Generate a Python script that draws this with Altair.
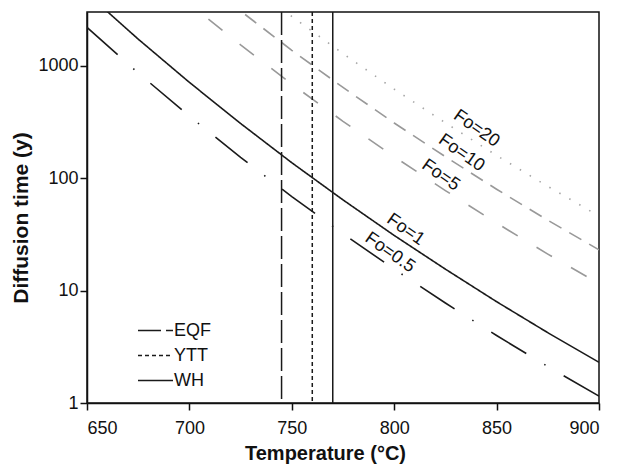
import altair as alt
import pandas as pd

# ---- data ----
temps = [650, 675, 700, 725, 750, 775, 800, 825, 850, 875, 900]
fo_05 = [2190, 861, 355, 153, 68.5, 32.0, 15.5, 7.75, 3.98, 2.11, 1.15]
fo_1 = [4385, 1722, 710, 306, 137, 64.0, 30.9, 15.5, 7.96, 4.22, 2.30]
fo_5 = [21900, 8610, 3550, 1530, 685, 320, 155, 77.5, 39.8, 21.1, 11.5]
fo_10 = [43850, 17220, 7100, 3060, 1370, 640, 309, 155, 79.6, 42.2, 23.0]
fo_20 = [87700, 34440, 14200, 6120, 2740, 1280, 618, 310, 159, 84.4, 46.0]

series_names = ["Fo=0.5", "Fo=1", "Fo=5", "Fo=10", "Fo=20"]
series_values = [fo_05, fo_1, fo_5, fo_10, fo_20]
series_colors = ["#1a1a1a", "#1a1a1a", "#999999", "#999999", "#a6a6a6"]
series_dash = [[41, 21, 1.5, 21], [1, 0], [18, 22], [14, 9], [1.5, 10]]

label_temp = [797.9, 805.6, 822.7, 832.9, 840.2]
label_time = [21.7, 34.8, 106, 167, 275]

sites = ["EQF", "YTT", "WH"]
site_temps = [745, 760, 770]
site_dash = [[23, 5], [4, 3], [1, 0]]

x_ticks = [650, 700, 750, 800, 850, 900]
y_ticks = [1, 10, 100, 1000]

# ---- tables ----
rows = []
for name, vals in zip(series_names, series_values):
    for t, v in zip(temps, vals):
        rows.append({"series": name, "T": t, "time": v})
lines_df = pd.DataFrame(rows)
labels_df = pd.DataFrame({"series": series_names, "T": label_temp, "time": label_time})
sites_df = pd.DataFrame({"site": sites, "T": site_temps})

FONT = "Liberation Sans"

x_enc = alt.X(
    "T:Q",
    scale=alt.Scale(domain=[650, 900], nice=False, zero=False),
    axis=alt.Axis(values=x_ticks, title="Temperature (°C)", labelPadding=9,
                  titleX=238, titleY=40, titleBaseline="top"),
)
y_enc = alt.Y(
    "time:Q",
    scale=alt.Scale(type="log", domain=[1, 3000], nice=False),
    axis=alt.Axis(values=y_ticks, format="d", title="Diffusion time (y)", labelPadding=2,
                  titleX=-60, titleY=205.5, titleBaseline="alphabetic", titleFontSize=21),
)

lines = alt.Chart(lines_df).mark_line(clip=True, strokeWidth=1.6).encode(
    x=x_enc,
    y=y_enc,
    color=alt.Color("series:N", scale=alt.Scale(domain=series_names, range=series_colors), legend=None),
    strokeDash=alt.StrokeDash("series:N", scale=alt.Scale(domain=series_names, range=series_dash), legend=None),
    detail="series:N",
)

labels = alt.Chart(labels_df).mark_text(
    angle=35, fontSize=18, font=FONT, color="#111111", align="center", baseline="middle"
).encode(x="T:Q", y="time:Q", text="series:N")

rules = alt.Chart(sites_df).mark_rule(strokeWidth=1.5, color="#1a1a1a").encode(
    x="T:Q",
    strokeDash=alt.StrokeDash(
        "site:N",
        scale=alt.Scale(domain=sites, range=site_dash),
        legend=alt.Legend(
            title=None, orient="none", legendX=50, legendY=307, symbolType="stroke",
            symbolSize=1225, symbolStrokeWidth=1.5, symbolStrokeColor="#1a1a1a",
            labelFontSize=18, labelFont=FONT, labelColor="#111111", labelOffset=0,
            padding=0, rowPadding=2, clipHeight=23,
        ),
    ),
)

chart = (
    alt.layer(lines, rules, labels)
    .resolve_scale(strokeDash="independent", color="independent")
    .properties(
        width=512, height=391,
        autosize=alt.AutoSizeParams(type="none"),
        padding={"left": 87, "top": 12, "right": 20, "bottom": 64},
    )
    .configure_view(stroke="#111111", strokeWidth=1.5)
    .configure_axis(
        grid=False, domainColor="#111111", domainWidth=1.5, tickColor="#111111", tickWidth=1.5,
        tickSize=7, labelColor="#111111", titleColor="#111111", labelFont=FONT, titleFont=FONT,
        labelFontSize=18, titleFontSize=20, titleFontWeight="bold",
    )
)

chart.save("out.html", embed_options={"renderer": "svg", "actions": False})
